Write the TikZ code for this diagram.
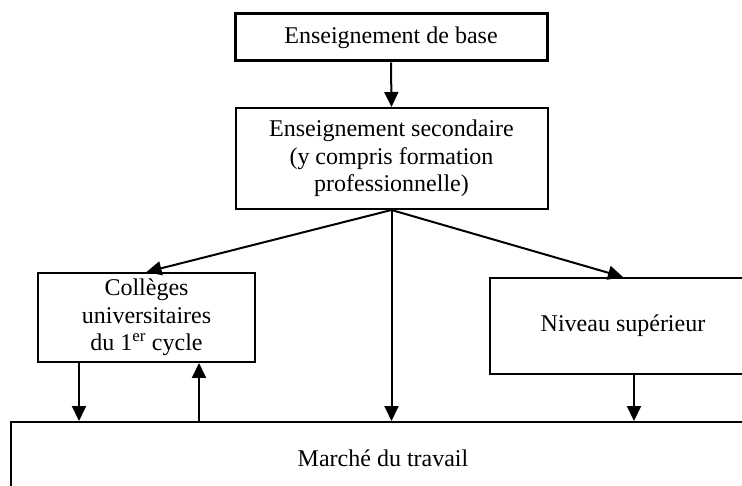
\documentclass[tikz,border=0pt]{standalone}
\usepackage{fontspec}
\setmainfont{Liberation Serif}
\usepackage{tikz}
\usetikzlibrary{arrows.meta, positioning}

\begin{document}
\begin{tikzpicture}[x=1pt, y=-1pt,
    level/.style={rectangle, draw, line width=2pt, inner sep=0pt, align=center, font=\fontsize{24}{27.5}\selectfont},
    flow/.style={line width=2pt, -{Triangle[length=15pt, width=14pt]}}]

    \useasboundingbox (0,0) rectangle (742,486);
    \clip (0,0) rectangle (742,486);

    \node[level, line width=3pt, minimum width=312pt, minimum height=47pt] (base) at (391,37.5) {Enseignement de base};
    \node[level, minimum width=312pt, minimum height=101pt] (sec) at (391.5,158.5) {Enseignement secondaire\\(y compris formation\\professionnelle)};
    \node[level, minimum width=217pt, minimum height=89pt] (coll) at (146.5,317.5) {Collèges\\universitaires\\du 1\textsuperscript{er} cycle};
    \node[level, minimum width=266pt, minimum height=96pt] (niv) at (623,326) {Niveau supérieur};
    \node[level, minimum width=744pt, minimum height=72pt] (marche) at (383,458) {Marché du travail};

    \draw[flow] (base.south) -- (sec.north);
    \draw[flow] (sec.south) -- (coll.north);
    \draw[flow] (sec.south) -- (niv.north);
    \draw[flow] (sec.south) -- (sec.south |- marche.north);

    \draw[flow] ([xshift=42pt]coll.south west) -- ([xshift=42pt]coll.south west |- marche.north);
    \draw[flow] ([xshift=162pt]coll.south west |- marche.north) -- ([xshift=162pt]coll.south west);
    \draw[flow] ([xshift=11pt]niv.south) -- ([xshift=11pt]niv.south |- marche.north);

\end{tikzpicture}
\end{document}
